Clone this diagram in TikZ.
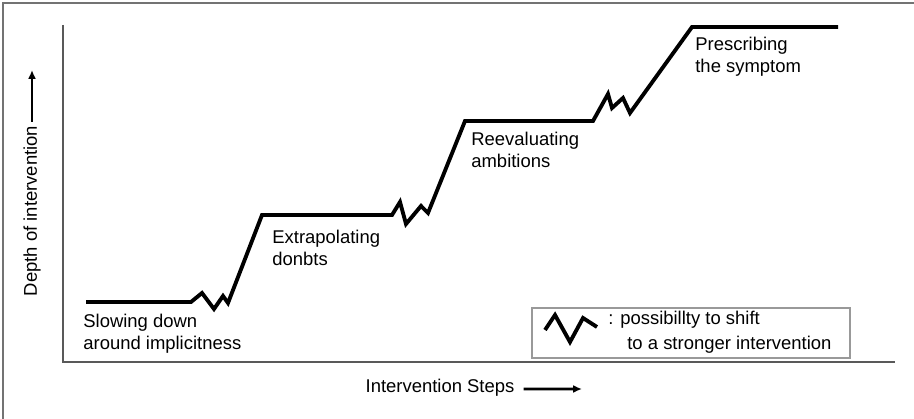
\documentclass[tikz,border=0pt]{standalone}
\usepackage{fontspec}
\setmainfont{Liberation Sans}
\usepackage{tikz}
\usetikzlibrary{arrows.meta}

\begin{document}
\begin{tikzpicture}[x=2cm,y=2cm,
    lbl/.style={font=\fontsize{10.5}{12.5}\selectfont,inner sep=0pt,align=left,anchor=west},
    axis/.style={line width=1.7pt,draw=black!65},
    steps/.style={line width=2.2pt,line join=miter},
    axarrow/.style={-{Latex[length=5pt,width=4.5pt]},line width=1.5pt}]
    \useasboundingbox (0,0) rectangle (9.14,4.19);
    \draw[line width=1.1pt,black!55] (0.03,0) -- (0.03,4.16) -- (9.14,4.16);
    \draw[axis] (0.63,3.94) -- (0.63,0.57) -- (8.95,0.57);
    \draw[steps] (0.86,1.17) -- (1.91,1.17) -- (2.02,1.26) -- (2.14,1.10) -- (2.23,1.23) -- (2.28,1.16)
      -- (2.62,2.04) -- (3.92,2.04) -- (4.00,2.17) -- (4.06,1.95) -- (4.21,2.13) -- (4.28,2.06)
      -- (4.65,2.98) -- (5.93,2.98) -- (6.08,3.25) -- (6.12,3.11) -- (6.23,3.21) -- (6.30,3.06)
      -- (6.92,3.92) -- (8.38,3.92);
    \node[lbl] (slow) at (0.83,0.85) {Slowing down\\around implicitness};
    \node[lbl] (extra) at (2.72,1.71) {Extrapolating\\donbts};
    \node[lbl] (reeval) at (4.71,2.69) {Reevaluating\\ambitions};
    \node[lbl] (prescr) at (6.95,3.62) {Prescribing\\the symptom};
    % axis labels
    \node[lbl,rotate=90,anchor=center] (ylab) at (0.32,2.08) {Depth of intervention};
    \coordinate (yarr) at (0.32,3.49);
    \draw[axarrow] ([yshift=0.08cm]ylab.east) -- (yarr);
    \node[lbl,anchor=center] (xlab) at (4.40,0.31) {Intervention Steps};
    \coordinate (xarr) at (5.82,0.30);
    \draw[axarrow] ([xshift=0.18cm,yshift=-0.02cm]xlab.east) -- (xarr);
    % legend
    \draw[line width=0.8pt,black!40] (5.32,0.61) rectangle (8.50,1.11);
    \draw[steps] (5.45,0.89) -- (5.55,1.04) -- (5.70,0.77) -- (5.83,1.01) -- (5.97,0.92);
    \node[lbl] (legA) at (6.08,0.99) {: possibillty to shift};
    \node[lbl] (legB) at (6.27,0.74) {to a stronger intervention};
  \end{tikzpicture}
\end{document}
